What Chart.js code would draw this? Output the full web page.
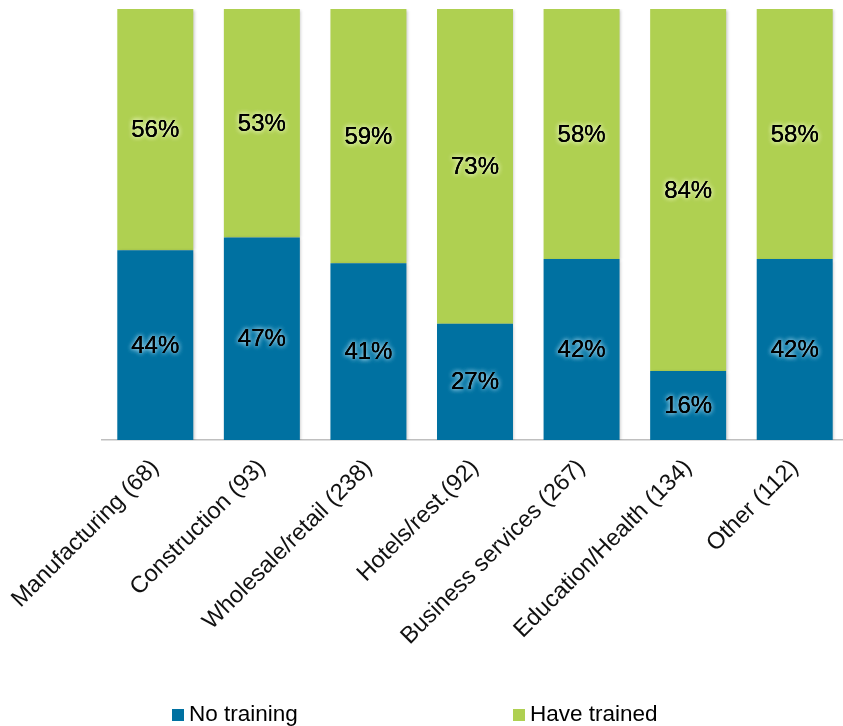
<!DOCTYPE html>
<html>
<head>
<meta charset="utf-8">
<script src="https://cdn.jsdelivr.net/npm/chart.js@4/dist/chart.umd.min.js"></script>
<style>
    html,body{ margin:0; padding:0; background:#fff; overflow:hidden; }
    canvas{ display:block; }
</style>
</head>
<body>
<canvas id="chart" width="848" height="726"></canvas>
<script>
// ---------- DATA ----------
const categories = ["Manufacturing (68)","Construction (93)","Wholesale/retail (238)","Hotels/rest.(92)","Business services (267)","Education/Health (134)","Other (112)"];
const noTraining = [44,47,41,27,42,16,42];
const haveTrained = [56,53,59,73,58,84,58];
const seriesNames = ["No training","Have trained"];

// ---------- STYLE ----------
const BLUE = "#0071a1";
const GREEN = "#afd051";
const FONT = "'Liberation Sans', Arial, sans-serif";
const glow = ["rgba(170,220,240,1)","rgba(240,250,205,1)"];

// soft drop shadow behind the bars
const barShadow = {
    id:"barShadow",
    beforeDatasetDraw(chart){
        const ctx = chart.ctx;
        ctx.save();
        ctx.shadowColor = "rgba(0,0,0,0.22)";
        ctx.shadowBlur = 3;
        ctx.shadowOffsetX = 1.5;
        ctx.shadowOffsetY = 1;
    },
    afterDatasetDraw(chart){
        chart.ctx.restore();
    }
};

// percentage labels in the middle of each segment
const valueLabels = {
    id:"valueLabels",
    afterDatasetsDraw(chart){
        const ctx = chart.ctx;
        ctx.save();
        ctx.font = "24px " + FONT;
        ctx.textAlign = "center";
        ctx.textBaseline = "middle";
        chart.data.datasets.forEach((ds,i)=>{
            const meta = chart.getDatasetMeta(i);
            meta.data.forEach((bar,j)=>{
                const y = (bar.y + bar.base)/2 + 1;
                const txt = ds.data[j] + "%";
                ctx.shadowColor = glow[i];
                ctx.shadowBlur = 5;
                ctx.fillStyle = "#000";
                ctx.fillText(txt, bar.x, y);
                ctx.fillText(txt, bar.x, y);
                ctx.shadowBlur = 0;
                ctx.fillText(txt, bar.x, y);
            });
        });
        ctx.restore();
    }
};

// legend along the bottom
const bottomLegend = {
    id:"bottomLegend",
    afterDraw(chart){
        const ctx = chart.ctx;
        const xs = [172,513];
        const y = 715;
        ctx.save();
        ctx.font = "22.5px " + FONT;
        ctx.textBaseline = "middle";
        ctx.textAlign = "left";
        chart.data.datasets.forEach((ds,i)=>{
            ctx.fillStyle = ds.backgroundColor;
            ctx.fillRect(xs[i], y-6, 12, 12);
            ctx.fillStyle = "#000";
            ctx.fillText(ds.label, xs[i]+17, y);
        });
        ctx.restore();
    }
};

// ---------- CHART ----------
new Chart(document.getElementById("chart"), {
    type:"bar",
    data:{
        labels:categories,
        datasets:[
            { label:seriesNames[0], data:noTraining, backgroundColor:BLUE },
            { label:seriesNames[1], data:haveTrained, backgroundColor:GREEN }
        ]
    },
    options:{
        responsive:false,
        animation:false,
        layout:{ padding:{ left:102, right:0, top:9, bottom:0 } },
        datasets:{ bar:{ categoryPercentage:1, barPercentage:0.713 } },
        plugins:{ legend:{ display:false }, tooltip:{ enabled:false } },
        scales:{
            x:{
                stacked:true,
                grid:{ display:false, drawTicks:false },
                border:{ display:true, color:"#bfbfbf", width:1.5 },
                ticks:{
                    autoSkip:false,
                    maxRotation:45,
                    minRotation:45,
                    padding:14,
                    color:"#111",
                    font:{ family:FONT, size:23.5 }
                },
                afterFit(s){
                    s.height = 286;
                    s.paddingLeft = 0;
                    s.paddingRight = 0;
                }
            },
            y:{
                stacked:true,
                display:false,
                min:0,
                max:100
            }
        }
    },
    plugins:[barShadow, valueLabels, bottomLegend]
});
</script>
</body>
</html>
